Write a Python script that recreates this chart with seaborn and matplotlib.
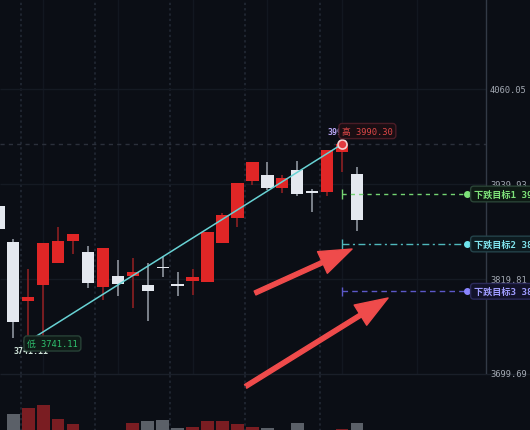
import numpy as np
import pandas as pd
import matplotlib
matplotlib.use("Agg")
import matplotlib.pyplot as plt
import seaborn as sns

# 数据
idx = list(range(-1, 24))
opens = [3912.5, 3866.2, 3792.4, 3812.6, 3840.0, 3868.2, 3853.6, 3810.1, 3823.2, 3824.0,
         3812.6, 3835.0, 3813.5, 3816.9, 3815.6, 3865.0, 3896.9, 3944.1, 3951.3, 3934.5,
         3957.6, 3930.7, 3930.2, 3980.0, 3952.6]
highs = [3912.5, 3870.4, 3832.5, 3865.0, 3885.2, 3876.7, 3861.9, 3858.6, 3844.2, 3846.4,
         3840.0, 3849.3, 3828.3, 3832.5, 3878.9, 3903.3, 3940.8, 3967.4, 3967.4, 3951.3,
         3968.6, 3933.6, 3982.9, 3990.30, 3961.1]
lows = [3883.0, 3745.6, 3741.11, 3748.1, 3840.0, 3851.4, 3808.4, 3793.6, 3797.9, 3782.8,
        3767.1, 3822.7, 3797.9, 3800.0, 3815.6, 3865.0, 3885.9, 3939.1, 3932.3, 3928.2,
        3925.1, 3904.2, 3924.4, 3955.5, 3880.1]
closes = [3883.0, 3765.1, 3796.7, 3865.0, 3867.5, 3876.7, 3814.8, 3858.6, 3813.9, 3829.0,
          3805.0, 3833.1, 3810.6, 3822.7, 3878.9, 3900.7, 3940.8, 3967.4, 3934.5, 3947.1,
          3927.3, 3928.2, 3982.9, 3990.3, 3894.8]
volumes = [4, 21, 26.7, 30, 16, 11, 4, 4, 4, 12, 14.3, 15, 6.7, 8.3, 14.3, 14, 11, 8.3,
           7, 4, 12, 4, 4, 6, 12]

low_price = 3741.11
high_price = 3990.30
low_i, high_i = 1, 22
price_ticks = [4060.05, 3939.93, 3819.81, 3699.69]
targets = [3927.29, 3864.06, 3804.26]
target_names = ["下跌目标1", "下跌目标2", "下跌目标3"]
arrow_tails = [(16.18, 3802.1), (15.55, 3684.0)]
arrow_heads = [(22.67, 3857.7), (25.08, 3795.8)]

bg = "#0b0e15"
up_c, down_c = "#e02626", "#e4e8ef"
up_wick, down_wick = "#8c1f22", "#8f959e"
vol_up, vol_down = "#7a1d22", "#5b6068"

sns.set_theme(style="dark", rc={"axes.facecolor": bg, "figure.facecolor": bg})
plt.rcParams["font.family"] = ["DejaVu Sans Mono", "Noto Sans CJK SC"]

xlim = (-0.89, 34.58)
ylim = (3699.69, 4173.85)
axis_x = 31.62

fig = plt.figure(figsize=(5.3, 4.31), dpi=100)
ax = fig.add_axes([0, 56 / 431, 1, 375 / 431])
axv = fig.add_axes([0, 0, 1, 56 / 431])

df = pd.DataFrame({"idx": idx, "open": opens, "high": highs, "low": lows,
                   "close": closes, "vol": volumes})
df["dir"] = np.where(df["close"] >= df["open"], "up", "down")

# 网格
ax.vlines([2, 7, 12, 17, 22, 27], ylim[0], ylim[1], color="#121720", lw=1, zorder=0)
for a, lo, hi in [(ax, ylim[0], ylim[1]), (axv, 0, 100)]:
    a.vlines([0.5, 5.5, 10.5, 15.5, 20.5], lo, hi, color="#252b37", lw=1.1,
             linestyles=(0, (1.5, 2)), zorder=0)
ax.hlines(price_ticks[:-1], xlim[0], axis_x, color="#151a23", lw=1, zorder=0)
ax.hlines(price_ticks[-1], xlim[0], xlim[1], color="#1a1f29", lw=1, zorder=0, clip_on=False)
ax.hlines(high_price, xlim[0], axis_x, color="#2b303b", lw=1, linestyles=(0, (3, 3)), zorder=1)
ax.vlines(axis_x, ylim[0], ylim[1], color="#333a46", lw=1, zorder=1)

# K线
wick_cols = np.where(df["dir"] == "up", up_wick, down_wick)
body_cols = np.where(df["dir"] == "up", up_c, down_c)
ax.vlines(df["idx"], df["low"], df["high"], colors=wick_cols, lw=1.2, zorder=2)
mid = (df["open"] + df["close"]) / 2
h = np.maximum((df["close"] - df["open"]).abs(), 1.8)
ax.bar(df["idx"], h, bottom=mid - h / 2, width=0.83, color=body_cols, lw=0, zorder=3)

# 成交量
sns.barplot(data=df, x="idx", y="vol", hue="dir", palette={"up": vol_up, "down": vol_down},
            native_scale=True, dodge=False, width=0.85, errorbar=None, legend=False,
            saturation=1, linewidth=0, edgecolor="none", ax=axv)

# 趋势线
ax.plot([low_i, high_i], [low_price, high_price], color="#68d2d4", lw=1.1, zorder=5)
ax.plot(low_i, low_price, "o", ms=6, mfc="#1d2a26", mec="#9fb8ae", mew=1, zorder=6)
ax.plot(high_i, high_price, "o", ms=6.5, mfc="#e03a3f", mec="#f2d0d0", mew=1.2, zorder=7)

ax.text(0.0, 3728.8, f"{low_price:.2f}", color="#cfe3d8", fontsize=6, weight="bold",
        va="center", zorder=6)
ax.text(0.92, 3738.3, f"低 {low_price:.2f}", color="#2fc26e", fontsize=6.3, va="center",
        zorder=8, bbox=dict(boxstyle="round,pad=0.35", fc="#0f1b17", ec="#284237", lw=1))
ax.text(21.0, 4006.9, f"{high_price:.2f}", color="#b9a7f5", fontsize=6, weight="bold",
        va="center", zorder=6)
ax.text(22.0, 4006.9, f"高 {high_price:.2f}", color="#e04848", fontsize=6.3, va="center",
        zorder=8, bbox=dict(boxstyle="round,pad=0.35", fc="#1a0e13", ec="#4a1c26", lw=1))

# 价格刻度
for p in price_ticks:
    ax.text(31.9, p, f"{p:.2f}", color="#a3a9b3", fontsize=6.3, va="center", zorder=3,
            clip_on=False)

# 下跌目标
line_cols = ["#74d472", "#4fb8bc", "#5c58c8"]
dot_cols = ["#7ee27a", "#6fe3ec", "#8a85ff"]
text_cols = ["#7ee27a", "#7fe3ec", "#9f9cff"]
box_fc = ["#0e1a14", "#0d1b20", "#12122a"]
box_ec = ["#2a4436", "#24434a", "#2c2a5a"]
styles = [(0, (3, 3)), (0, (5, 2.5, 1.5, 2.5)), (0, (4, 3))]
for t, name, lc, dc, tc, fc, ec, ls in zip(targets, target_names, line_cols, dot_cols,
                                           text_cols, box_fc, box_ec, styles):
    ax.plot([22, 30.35], [t, t], color=lc, lw=1, ls=ls, zorder=4)
    ax.vlines(22, t - 6, t + 6, color=lc, lw=1, zorder=4)
    ax.plot(30.35, t, "o", ms=4, color=dc, zorder=5)
    ax.text(30.82, t, f"{name} {t:.2f}", color=tc, fontsize=6.6, weight="bold", va="center",
            zorder=9, clip_on=False,
            bbox=dict(boxstyle="round,pad=0.35", fc=fc, ec=ec, lw=1))

# 箭头
for tail, head in zip(arrow_tails, arrow_heads):
    ax.annotate("", xy=head, xytext=tail, annotation_clip=False, zorder=10,
                arrowprops=dict(arrowstyle="simple,head_length=1.3,head_width=0.95,tail_width=0.17",
                                color="#ef4b4b", mutation_scale=18, shrinkA=0, shrinkB=0))

for a in (ax, axv):
    a.set_xlim(*xlim)
    a.set_axis_off()
ax.set_ylim(*ylim)
axv.set_ylim(5, 61)

fig.savefig("out.png", dpi=100, facecolor=bg)
